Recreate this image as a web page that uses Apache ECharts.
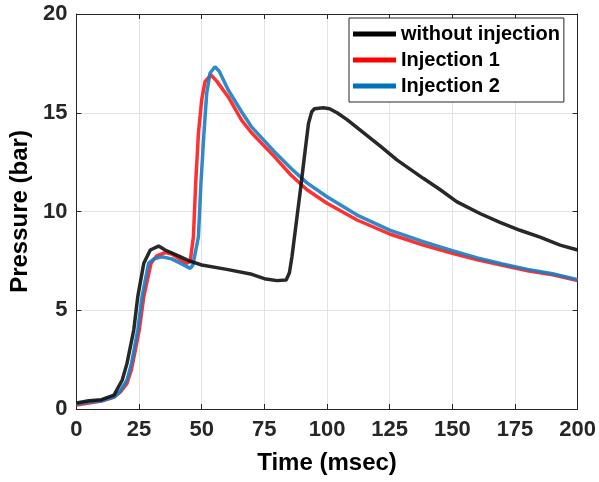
<!DOCTYPE html>
<html>
<head>
<meta charset="utf-8">
<script src="https://cdn.jsdelivr.net/npm/echarts@6/dist/echarts.min.js"></script>
<style>
  html, body { margin: 0; padding: 0; background: #fff; }
  #chart { width: 599px; height: 482px; }
</style>
</head>
<body>
<div id="chart"></div>
<script>
// Pressure traces (bar) against time (msec)
const seriesNames = ['without injection', 'Injection 1', 'Injection 2'];

const timeNoInj = [0, 5, 10, 15, 18.3, 20.2, 22.9, 24.5, 26.9, 29.5, 32.8, 35.4, 40.7, 45, 50, 60, 70, 75, 80, 83.7, 85, 86, 87.7, 89.4, 91, 92.6, 93.9, 95, 98.5, 101, 104, 108, 113.5, 121.4, 128, 138.4, 145.2, 151.7, 161, 169, 177, 185, 193, 200];
const pressNoInj = [0.3, 0.42, 0.47, 0.7, 1.47, 2.31, 4.0, 5.69, 7.38, 8.05, 8.25, 8.05, 7.75, 7.5, 7.29, 7.07, 6.82, 6.6, 6.5, 6.53, 6.9, 7.7, 9.4, 11.1, 12.8, 14.45, 15.05, 15.2, 15.25, 15.2, 15.0, 14.65, 14.1, 13.3, 12.6, 11.68, 11.1, 10.5, 9.9, 9.45, 9.05, 8.7, 8.3, 8.05];

const timeInj1 = [0, 5, 10, 15, 17.5, 20.2, 22, 25.1, 26.9, 29.8, 32, 35.4, 38, 41, 44, 45.4, 46.7, 47.6, 48.7, 50, 51.3, 53.7, 56, 60.6, 65.9, 69.8, 79, 85.6, 92, 100, 112, 125, 138.4, 150, 160, 170, 180, 190, 200];
const pressInj1 = [0.2, 0.3, 0.4, 0.6, 0.85, 1.3, 2.0, 4.0, 5.69, 7.38, 7.75, 7.92, 7.85, 7.6, 7.38, 7.46, 8.72, 11.43, 13.96, 15.65, 16.57, 16.91, 16.6, 15.8, 14.63, 14.0, 12.78, 11.85, 11.1, 10.42, 9.57, 8.86, 8.3, 7.88, 7.55, 7.28, 7.0, 6.8, 6.5];

const timeInj2 = [0, 5, 10, 15, 17.5, 20.2, 22, 24.5, 26.2, 28.8, 31, 34.1, 38, 42, 45.4, 46.5, 48.7, 49.7, 50.9, 52, 53.3, 55.3, 57, 60.6, 65.9, 69.8, 79, 85.6, 92, 100, 112, 125, 138.4, 150, 160, 170, 180, 190, 200];
const pressInj2 = [0.25, 0.35, 0.42, 0.6, 0.9, 1.47, 2.31, 4.0, 5.69, 7.38, 7.6, 7.71, 7.6, 7.35, 7.12, 7.3, 8.72, 11.43, 13.96, 15.98, 17.0, 17.33, 17.1, 16.15, 15.05, 14.3, 13.03, 12.19, 11.45, 10.75, 9.82, 9.06, 8.47, 8.02, 7.65, 7.34, 7.07, 6.85, 6.55];

const xTicks = [0, 25, 50, 75, 100, 125, 150, 175, 200];
const yTicks = [0, 5, 10, 15, 20];

const pairs = (t, v) => t.map((x, i) => [x, v[i]]);

const FONT = 'Liberation Sans, Arial, sans-serif';
const AX = '#262626';

const baseX = {
  type: 'value', min: xTicks[0], max: xTicks[xTicks.length - 1], interval: 25,
  axisLine: { show: true, onZero: false, lineStyle: { color: AX, width: 1 } },
  axisTick: { show: true, inside: true, length: 5, lineStyle: { color: AX } }
};
const baseY = {
  type: 'value', min: yTicks[0], max: yTicks[yTicks.length - 1], interval: 5,
  axisLine: { show: true, onZero: false, lineStyle: { color: AX, width: 1 } },
  axisTick: { show: true, inside: true, length: 5, lineStyle: { color: AX } }
};

const chart = echarts.init(document.getElementById('chart'), null, { renderer: 'canvas' });
chart.setOption({
  animation: false,
  backgroundColor: '#ffffff',
  grid: { left: 74, right: 20, top: 14, bottom: 73, containLabel: false },
  legend: {
    data: seriesNames,
    orient: 'vertical',
    left: 349, top: 18,
    padding: [5, 4, 5, 4],
    itemGap: 4,
    itemWidth: 43, itemHeight: 5,
    icon: 'rect',
    borderColor: AX, borderWidth: 1, backgroundColor: '#ffffff',
    textStyle: { fontFamily: FONT, fontWeight: 'bold', fontSize: 20, color: '#000', lineHeight: 22 }
  },
  xAxis: [
    Object.assign({}, baseX, {
      position: 'bottom',
      name: 'Time (msec)', nameLocation: 'middle', nameGap: 42,
      nameTextStyle: { fontFamily: FONT, fontWeight: 'bold', fontSize: 24, color: '#000' },
      axisLabel: { show: true, margin: 10, fontFamily: FONT, fontWeight: 'bold', fontSize: 22, color: AX },
      splitLine: { show: true, lineStyle: { color: '#e3e3e3', width: 1 } }
    }),
    Object.assign({}, baseX, {
      position: 'top',
      axisLabel: { show: false },
      splitLine: { show: false }
    })
  ],
  yAxis: [
    Object.assign({}, baseY, {
      position: 'left',
      name: 'Pressure (bar)', nameLocation: 'middle', nameGap: 38,
      nameTextStyle: { fontFamily: FONT, fontWeight: 'bold', fontSize: 24, color: '#000' },
      axisLabel: { show: true, margin: 9, fontFamily: FONT, fontWeight: 'bold', fontSize: 22, color: AX },
      splitLine: { show: true, lineStyle: { color: '#e3e3e3', width: 1 } }
    }),
    Object.assign({}, baseY, {
      position: 'right',
      axisLabel: { show: false },
      splitLine: { show: false }
    })
  ],
  series: [
    {
      name: seriesNames[0], type: 'line', data: pairs(timeNoInj, pressNoInj),
      showSymbol: false, z: 4, color: '#000000',
      lineStyle: { color: '#111111', width: 3.5, opacity: 0.9 }
    },
    {
      name: seriesNames[1], type: 'line', data: pairs(timeInj1, pressInj1),
      showSymbol: false, z: 2, color: '#ff0000',
      lineStyle: { color: '#ff1a1a', width: 3.5, opacity: 0.9 }
    },
    {
      name: seriesNames[2], type: 'line', data: pairs(timeInj2, pressInj2),
      showSymbol: false, z: 3, color: '#0072bd',
      lineStyle: { color: '#1a7dc4', width: 3.5, opacity: 0.9 }
    }
  ]
});
</script>
</body>
</html>
